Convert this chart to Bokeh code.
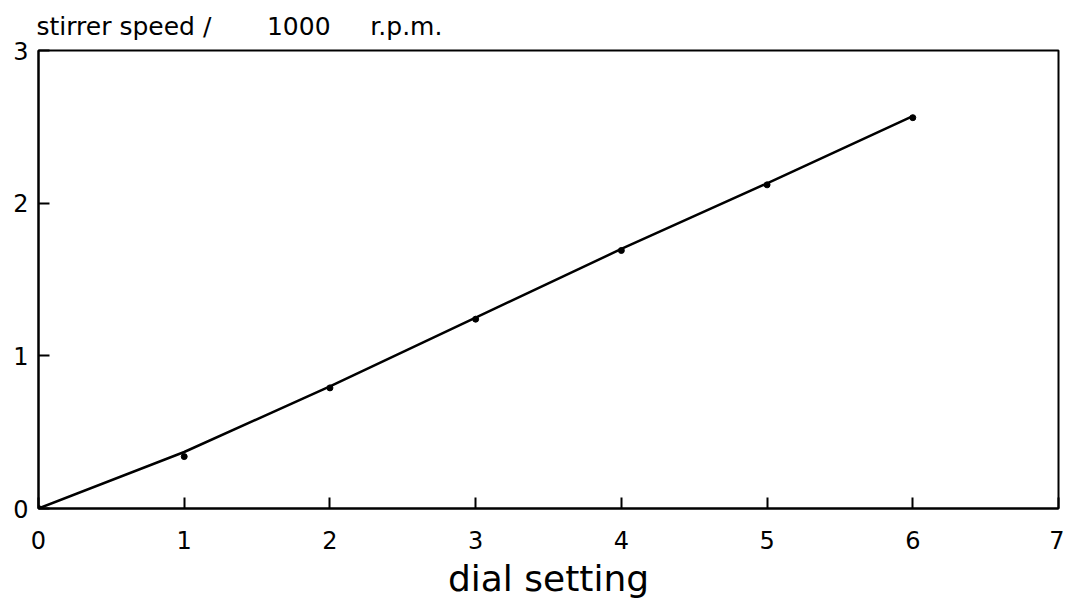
from bokeh.plotting import figure
from bokeh.models import Range1d, FixedTicker
from bokeh.embed import file_html
from bokeh.resources import INLINE

# data
dial = [0, 1, 2, 3, 4, 5, 6]
speed = [0.0, 0.34, 0.79, 1.24, 1.69, 2.12, 2.56]
curve_x = [0, 1, 2, 3, 4, 5, 6]
curve_y = [0.0, 0.37, 0.80, 1.25, 1.70, 2.13, 2.57]
x_ticks = [0, 1, 2, 3, 4, 5, 6, 7]
y_ticks = [0, 1, 2, 3]

FONT = "DejaVu Sans"
NB = "\u00a0"

p = figure(width=1064, height=601, output_backend="svg", toolbar_location=None,
           x_range=Range1d(0, 7), y_range=Range1d(0, 3),
           min_border_left=38, min_border_right=6, min_border_top=48, min_border_bottom=93,
           title="stirrer speed /" + NB * 7 + "1000" + NB * 5 + "r.p.m.")
p.grid.visible = False
p.outline_line_color = "black"
p.outline_line_width = 2
p.outline_line_alpha = 1

p.title.text_font = FONT
p.title.text_font_size = "25px"
p.title.text_font_style = "normal"
p.title.text_color = "black"
p.title.align = "left"
p.title.offset = -2
p.title.standoff = 19

for ax in (p.xaxis[0], p.yaxis[0]):
    ax.axis_line_color = "black"
    ax.axis_line_width = 2
    ax.major_tick_line_color = "black"
    ax.major_tick_line_width = 2
    ax.major_tick_in = 11
    ax.major_tick_out = 0
    ax.minor_tick_line_color = None
    ax.major_label_text_font = FONT
    ax.major_label_text_font_size = "24px"
    ax.major_label_text_color = "black"

p.xaxis.ticker = FixedTicker(ticks=x_ticks)
p.yaxis.ticker = FixedTicker(ticks=y_ticks)
p.xaxis.major_label_standoff = 22
p.yaxis.major_label_standoff = 10
p.xaxis.axis_label = "dial setting"
p.xaxis.axis_label_text_font = FONT
p.xaxis.axis_label_text_font_size = "36px"
p.xaxis.axis_label_text_font_style = "normal"
p.xaxis.axis_label_text_color = "black"
p.xaxis.axis_label_standoff = 6

p.line(curve_x, curve_y, line_color="black", line_width=2.5)
p.scatter(dial, speed, size=6, color="black")

open("out.html", "w").write(file_html(p, INLINE))
